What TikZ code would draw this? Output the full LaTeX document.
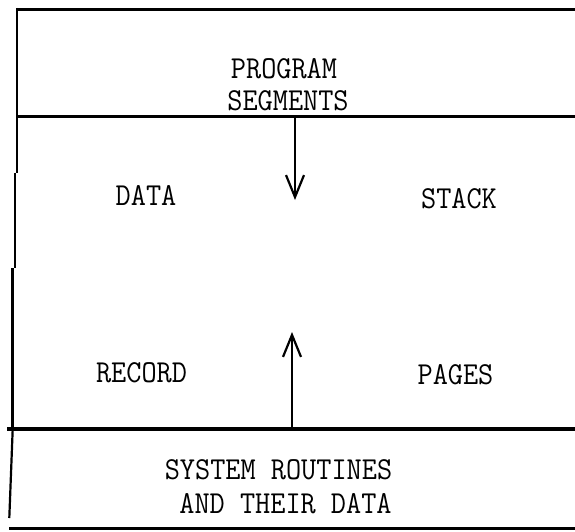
\documentclass[tikz,border=0pt]{standalone}
\usepackage{fontspec}
\newfontfamily\twfont[FakeStretch=0.92]{Latin Modern Mono}
\usetikzlibrary{arrows.meta}
\begin{document}
\begin{tikzpicture}[x=1pt,y=-1pt,
  lbl/.style={font=\twfont\fontsize{32}{36}\selectfont, inner sep=0pt, anchor=center},
  rule/.style={line width=#1, line cap=butt},
  arr/.style={line width=2.3pt, -{Straight Barb[length=22pt,width=18pt,line width=2.2pt]}}]
\useasboundingbox (0,0) rectangle (575,532);
% horizontal rules
\draw[rule=3pt] (16,9.5) -- (575,9.5);
\draw[rule=3pt] (16,117) -- (575,117);
\draw[rule=3.6pt] (7,429) -- (575,429);
\draw[rule=2.6pt] (9,528.5) -- (575,528.5);
% left edge (pieced)
\draw[rule=2.4pt] (16.7,8) -- (16.7,172.5);
\draw[rule=2.4pt] (14.8,172.5) -- (14.8,268);
\draw[rule=2.6pt] (12.5,268) -- (12.5,429);
\draw[rule=2.2pt] (12.7,429) -- (9.3,518);
% labels
\node[lbl] (prog) at (284,68.5) {PROGRAM};
\node[lbl] (seg) at (288,101) {SEGMENTS};
\node[lbl] (data) at (146,195.5) {DATA};
\node[lbl] (stack) at (459,198.5) {STACK};
\node[lbl] (record) at (141.5,372.5) {RECORD};
\node[lbl] (pages) at (455.5,375) {PAGES};
\node[lbl] (sys) at (278.5,470) {SYSTEM ROUTINES};
\node[lbl] (their) at (285.5,503.5) {AND THEIR DATA};
% arrows
\coordinate (d0) at (295,117);
\coordinate (d1) at (295,200);
\coordinate (u0) at (292,427);
\coordinate (u1) at (292,332);
\draw[arr] (d0) -- (d1);
\draw[arr] (u0) -- (u1);
\end{tikzpicture}
\end{document}
